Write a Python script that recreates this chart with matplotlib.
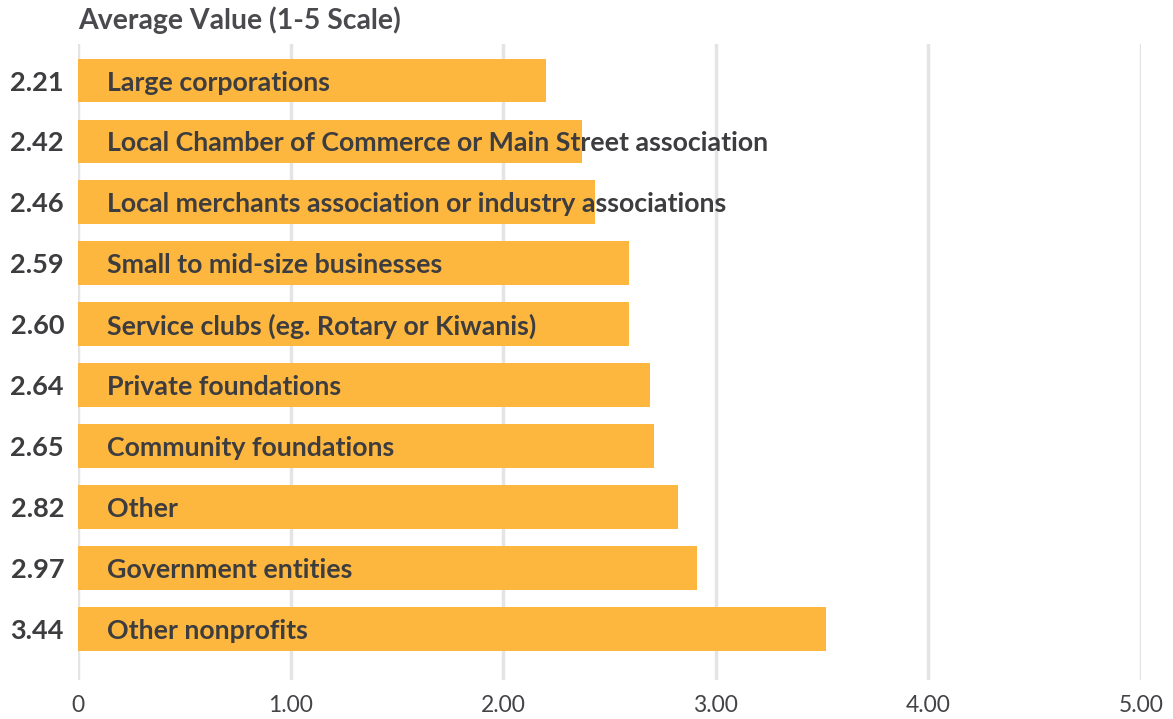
import matplotlib.pyplot as plt

# Data
categories = ["Large corporations",
              "Local Chamber of Commerce or Main Street association",
              "Local merchants association or industry associations",
              "Small to mid-size businesses",
              "Service clubs (eg. Rotary or Kiwanis)",
              "Private foundations",
              "Community foundations",
              "Other",
              "Government entities",
              "Other nonprofits"]
value_labels = ["2.21", "2.42", "2.46", "2.59", "2.60", "2.64", "2.65", "2.82", "2.97", "3.44"]
bar_lengths = [2.20, 2.37, 2.43, 2.59, 2.59, 2.69, 2.71, 2.82, 2.91, 3.52]
xticks = [0, 1, 2, 3, 4, 5]
xtick_labels = ["0", "1.00", "2.00", "3.00", "4.00", "5.00"]

bar_color = "#FDB73E"
text_color = "#3d3d40"
grid_color = "#e4e4e4"
font = "Lato"

fig = plt.figure(figsize=(11.73, 7.19), dpi=100)
ax = fig.add_axes([78 / 1173, 1 - 680 / 719, (1141 - 78) / 1173, (680 - 44) / 719])

ypos = list(range(len(categories)))
ax.barh(ypos, bar_lengths, height=0.72, color=bar_color, zorder=2)

ax.set_xlim(0, 5)
ax.set_ylim(len(categories) - 0.16, -0.6)

# gridlines
for x in xticks:
    ax.axvline(x, color=grid_color, lw=2.5, zorder=1)

for s in ax.spines.values():
    s.set_visible(False)
ax.set_yticks([])
ax.set_xticks(xticks)
ax.set_xticklabels(xtick_labels, fontsize=16.5, color="#444448", family=font)
ax.tick_params(axis="x", length=0, pad=11)

# labels inside bars and values on the left
for i, (cat, lab) in enumerate(zip(categories, value_labels)):
    ax.annotate(cat, xy=(0, i), xytext=(29, -2), textcoords="offset pixels",
                ha="left", va="center", fontsize=19.3, fontweight="bold",
                color=text_color, family=font, zorder=3)
    ax.annotate(lab, xy=(0, i), xytext=(-14, -2), textcoords="offset pixels",
                ha="right", va="center", fontsize=19.5, fontweight="bold",
                color=text_color, family=font, zorder=3)

fig.text(78 / 1173, 1 - 20 / 719, "Average Value (1-5 Scale)", ha="left", va="center",
         fontsize=20.4, fontweight="bold", color="#4a4a4e", family=font)

fig.savefig("out.png", dpi=100, facecolor="white")
